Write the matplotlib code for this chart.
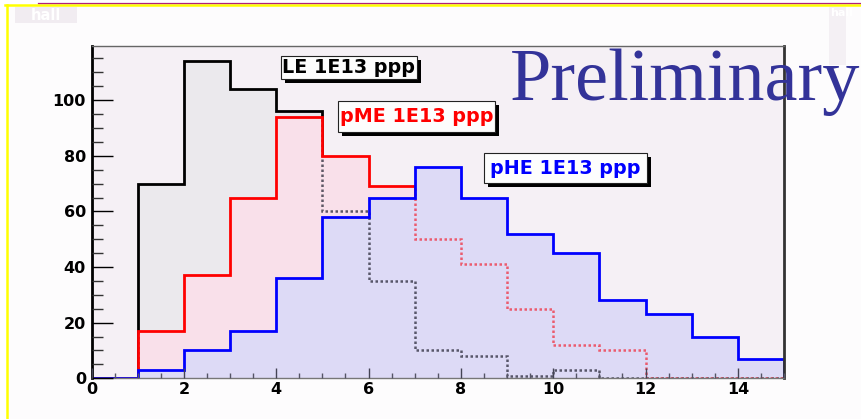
import matplotlib
matplotlib.use("Agg")
import matplotlib.pyplot as plt
import numpy as np
from matplotlib.patches import Rectangle
from matplotlib.lines import Line2D
from matplotlib.ticker import MultipleLocator, FixedLocator

# ---- data -------------------------------------------------------------
bin_edges = np.arange(0, 16)
le_counts = [0, 70, 114, 104, 96, 60, 35, 10, 8, 1, 3, 0, 0, 0, 0]
pme_counts = [0, 17, 37, 65, 94, 80, 69, 50, 41, 25, 12, 10, 0, 0, 0]
phe_counts = [0, 3, 10, 17, 36, 58, 65, 76, 65, 52, 45, 28, 23, 15, 7]
series_labels = ["LE 1E13 ppp", "pME 1E13 ppp", "pHE 1E13 ppp"]
x_ticks = [0, 2, 4, 6, 8, 10, 12, 14]
y_ticks = [0, 20, 40, 60, 80, 100]
watermark = "Preliminary"
pad_name = "hall"

# ---- styling ----------------------------------------------------------
W, H = 861, 419
line_colors = ["#000000", "#ff0000", "#0000ff"]
ghost_colors = ["#2a2a3a", "#f03040", "#0000ff"]
fill_colors = ["#ebe9ed", "#f9e0ea", "#dddaf6"]
label_boxes = [(281, 56, 417, 79), (338, 101, 495, 132), (484, 153, 647, 183)]
sans = ["DejaVu Sans"]


def frac_rect(x0, y0, x1, y1):
    """Pixel box (top-left origin) -> figure-fraction rectangle."""
    return (x0 / W, 1 - y1 / H, (x1 - x0) / W, (y1 - y0) / H)


fig = plt.figure(figsize=(W / 100, H / 100), dpi=100)
fig.patch.set_facecolor("white")

# canvas background and frame lines
fig.add_artist(Rectangle((7 / W, 0), 1, 1 - 5 / H, transform=fig.transFigure,
                         facecolor="#fdfcfd", edgecolor="none", zorder=-10))
fig.add_artist(Line2D([5 / W, 1], [1 - 5 / H, 1 - 5 / H], transform=fig.transFigure,
                      color="#ffff00", lw=1.8, zorder=-5))
fig.add_artist(Line2D([6.5 / W, 6.5 / W], [0, 1 - 5 / H], transform=fig.transFigure,
                      color="#ffff00", lw=1.8, zorder=-5))
fig.add_artist(Line2D([38 / W, 1], [1 - 3 / H, 1 - 3 / H], transform=fig.transFigure,
                      color="#b0207a", lw=0.9, zorder=-5))

# pad name tags
r = frac_rect(15, 7, 77, 23)
fig.add_artist(Rectangle(r[:2], *r[2:], transform=fig.transFigure,
                         facecolor="#f1ecf1", edgecolor="none", zorder=-4))
fig.text(46 / W, 1 - 15.5 / H, pad_name, color="white", fontsize=10.5,
         fontweight="bold", family=sans, ha="center", va="center")
r = frac_rect(829, 7, 846, 65)
fig.add_artist(Rectangle(r[:2], *r[2:], transform=fig.transFigure,
                         facecolor="#f4f0f4", edgecolor="none", zorder=-4))
fig.text(830 / W, 1 - 13 / H, pad_name, color="white", fontsize=8,
         fontweight="bold", family=sans, ha="left", va="center")

# ---- histogram frame --------------------------------------------------
ax = fig.add_axes([91.6 / W, 1 - 378.3 / H, (784 - 91.6) / W, (378.3 - 45.7) / H])
ax.set_facecolor("#f5f0f5")
ax.set_xlim(0, 15)
ax.set_ylim(0, 119.6)

all_counts = [le_counts, pme_counts, phe_counts]
for i, counts in enumerate(all_counts):
    z = 1 + 0.2 * i
    fill = ax.stairs(counts, bin_edges, fill=True, facecolor=fill_colors[i],
                     edgecolor="none", zorder=z)
    # earlier outlines still show through the newer fill as a fine dotted trace
    for j in range(i):
        ghost = ax.stairs(all_counts[j], bin_edges, color=ghost_colors[j], lw=1.8,
                          linestyle=(0, (1, 1)), alpha=0.75, zorder=z + 0.05)
        ghost.set_clip_path(fill)
    ax.stairs(counts, bin_edges, color=line_colors[i], lw=2.0, zorder=z + 0.1)

ax.set_axisbelow(False)
ax.xaxis.set_major_locator(FixedLocator(x_ticks))
ax.xaxis.set_minor_locator(MultipleLocator(0.5))
ax.yaxis.set_major_locator(FixedLocator(y_ticks))
ax.yaxis.set_minor_locator(MultipleLocator(5))
ax.tick_params(axis="y", which="major", direction="in", length=15, width=1,
               color="black", pad=4)
ax.tick_params(axis="y", which="minor", direction="in", length=8, width=1,
               color="#333333")
ax.tick_params(axis="x", which="major", direction="in", length=7, width=1,
               color="#444455", pad=3)
ax.tick_params(axis="x", which="minor", direction="in", length=3.6, width=1,
               color="#555566")
for lab in ax.get_xticklabels() + ax.get_yticklabels():
    lab.set_fontfamily(sans)
    lab.set_fontweight("bold")
    lab.set_fontsize(11.5)

ax.spines["left"].set_linewidth(2.0)
ax.spines["left"].set_color("black")
ax.spines["bottom"].set_linewidth(1.0)
ax.spines["bottom"].set_color("#777777")
ax.spines["top"].set_linewidth(1.0)
ax.spines["top"].set_color("#666666")
ax.spines["right"].set_linewidth(2.0)
ax.spines["right"].set_color("#333333")

# ---- legend tags with drop shadow ------------------------------------
for (x0, y0, x1, y1), text, color in zip(label_boxes, series_labels, line_colors):
    sx, sy, sw, sh = frac_rect(x0 + 4, y0 + 4, x1 + 4, y1 + 4)
    fig.add_artist(Rectangle((sx, sy), sw, sh, transform=fig.transFigure,
                             facecolor="black", edgecolor="none", zorder=4))
    bx, by, bw, bh = frac_rect(x0, y0, x1, y1)
    fig.add_artist(Rectangle((bx, by), bw, bh, transform=fig.transFigure,
                             facecolor="#fdfdfd", edgecolor="#222222", lw=0.8,
                             zorder=5))
    fig.text(bx + bw / 2, by + bh / 2, text, color=color, fontsize=13.8,
             fontweight="bold", family=sans, ha="center", va="center", zorder=6)

fig.text(510 / W, 1 - 100 / H, watermark, family="Liberation Serif",
         fontsize=53.5, color="#333399", ha="left", va="baseline", zorder=7)

fig.savefig("out.png", dpi=100)
